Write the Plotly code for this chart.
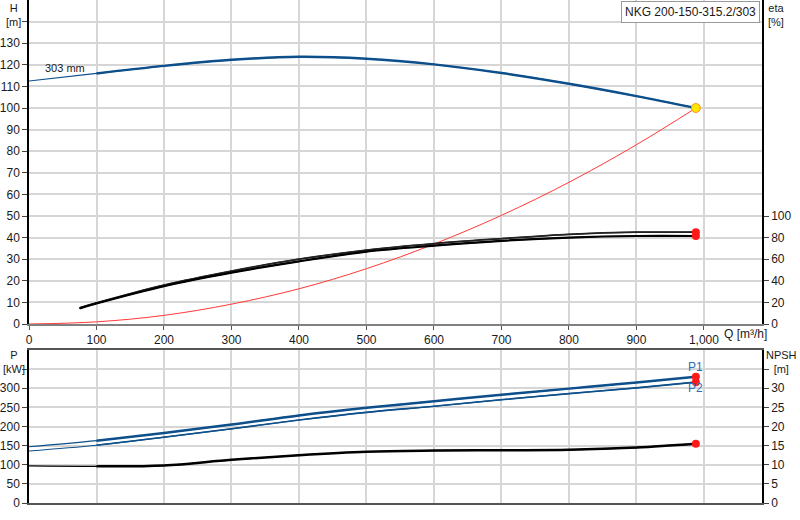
import plotly.graph_objects as go

# pump curve data
q = [0, 100, 200, 300, 400, 500, 600, 700, 800, 900, 988]
head = [112.5, 116, 119.5, 122.3, 123.7, 122.8, 120.2, 116.2, 111.2, 105.5, 100]
system = [0, 1, 4, 9.2, 16.3, 25.6, 37, 50.3, 65.6, 83, 100]
p1 = [147, 163, 183, 205, 229, 249, 266, 283, 299, 315, 330]
p2 = [136, 151, 172, 194, 217, 237, 253, 270, 286, 301, 316]
npsh = [9.7, 9.6, 9.8, 11.3, 12.5, 13.4, 13.7, 13.8, 13.9, 14.5, 15.5]

q_eta = [75, 100, 200, 300, 400, 500, 600, 700, 800, 900, 988]
eta_1 = [15, 19.5, 36, 49, 60, 68.5, 74.5, 79, 83, 85, 85]
eta_2 = [14.5, 19, 35, 47.5, 58, 67, 72.5, 77, 80, 81.5, 81.5]

q_ticks = [0, 100, 200, 300, 400, 500, 600, 700, 800, 900, 1000]
q_labels = ["0", "100", "200", "300", "400", "500", "600", "700", "800", "900", "1,000"]
h_ticks = list(range(0, 150, 10))
eta_ticks = [0, 20, 40, 60, 80, 100]
p_ticks = list(range(0, 400, 50))
npsh_ticks = list(range(0, 40, 5))

pump_name = "NKG 200-150-315.2/303"
impeller = "303 mm"

BLUE = "#0d4f8b"
RED = "#ff1a1a"
FONT = "Liberation Sans, Arial, sans-serif"

# plot area in pixels: x 29..762, y 0..503
def px(x):
    return (x - 29) / 733.0

def py(y):
    return (503 - y) / 503.0

fig = go.Figure()

def curve(x, y, color, width, xa="x", ya="y", thin_to=0):
    # thin start, thick rest (as on the datasheet)
    fig.add_trace(go.Scatter(x=x, y=y, mode="lines", xaxis=xa, yaxis=ya,
                             line=dict(color=color, width=1.2, shape="spline"),
                             hoverinfo="skip"))
    fig.add_trace(go.Scatter(x=x[thin_to:], y=y[thin_to:], mode="lines", xaxis=xa, yaxis=ya,
                             line=dict(color=color, width=width, shape="spline"),
                             hoverinfo="skip"))

# top panel
fig.add_trace(go.Scatter(x=q, y=system, mode="lines", line=dict(color="#ff3838", width=1, shape="spline"),
                         hoverinfo="skip"))
curve(q, head, BLUE, 2.5, thin_to=1)
curve(q_eta, eta_1, "#222222", 1.8, ya="y2")
curve(q_eta, eta_2, "#000000", 2.2, ya="y2")
fig.add_trace(go.Scatter(x=[q_eta[-1], q_eta[-1]], y=[eta_1[-1], eta_2[-1]], mode="markers", yaxis="y2",
                         marker=dict(color=RED, size=8), hoverinfo="skip"))
fig.add_trace(go.Scatter(x=[q[-1]], y=[head[-1]], mode="markers",
                         marker=dict(color="#ffe600", size=9, line=dict(color="#ff9020", width=1)),
                         hoverinfo="skip"))

# bottom panel
curve(q, p1, BLUE, 2.5, xa="x2", ya="y3", thin_to=1)
curve(q, p2, BLUE, 1.6, xa="x2", ya="y3", thin_to=1)
curve(q, npsh, "#000000", 2.5, xa="x2", ya="y4", thin_to=1)
fig.add_trace(go.Scatter(x=[q[-1], q[-1]], y=[p1[-1], p2[-1]], mode="markers", xaxis="x2", yaxis="y3",
                         marker=dict(color=RED, size=8), hoverinfo="skip"))
fig.add_trace(go.Scatter(x=[q[-1]], y=[npsh[-1]], mode="markers", xaxis="x2", yaxis="y4",
                         marker=dict(color=RED, size=8), hoverinfo="skip"))

grid = "#d6d6d6"
tickfont = dict(family=FONT, size=12, color="#1a1a1a")
xcommon = dict(range=[0, 1086], tickvals=q_ticks, showgrid=True, gridcolor=grid, gridwidth=1.5,
               zeroline=False, tickfont=tickfont)

fig.update_layout(
    width=800, height=520,
    margin=dict(l=29, r=38, t=0, b=17),
    plot_bgcolor="white", paper_bgcolor="white",
    showlegend=False,
    font=dict(family=FONT, size=12, color="#1a1a1a"),
    xaxis=dict(xcommon, anchor="y", ticktext=q_labels, showline=True, linecolor="#808080",
               linewidth=2, ticks="outside", ticklen=4, tickcolor="#555"),
    yaxis=dict(domain=[py(324), 1], range=[0, 150], tickvals=h_ticks,
               ticktext=[str(v) for v in h_ticks[:-1]] + [""],
               showgrid=True, gridcolor=grid, gridwidth=1.5, zeroline=False,
               showline=True, linecolor="black", linewidth=1.5, ticks="outside", ticklen=5,
               tickfont=tickfont),
    yaxis2=dict(overlaying="y", side="right", anchor="x", range=[0, 300], tickvals=eta_ticks,
                showgrid=False, zeroline=False, showline=True, linecolor="black", linewidth=1.5,
                ticks="outside", ticklen=5, tickfont=tickfont),
    xaxis2=dict(xcommon, anchor="y3", showticklabels=False, showline=True, mirror=True,
                linecolor="#555", linewidth=1.5, ticks=""),
    yaxis3=dict(domain=[0, py(350)], anchor="x2", range=[0, 400], tickvals=p_ticks,
                ticktext=[str(v) for v in p_ticks[:-1]] + [""],
                showgrid=True, gridcolor=grid, gridwidth=1.5, zeroline=False,
                showline=True, linecolor="black", linewidth=1.5, ticks="outside", ticklen=5,
                tickfont=tickfont),
    yaxis4=dict(overlaying="y3", side="right", anchor="x2", range=[0, 40], tickvals=npsh_ticks,
                ticktext=[str(v) for v in npsh_ticks[:-1]] + [""],
                showgrid=False, zeroline=False, showline=True, linecolor="black", linewidth=1.5,
                ticks="outside", ticklen=5, tickfont=tickfont),
)

def label(text, x, y, anchor="center", size=12):
    fig.add_annotation(text=text, xref="paper", yref="paper", x=px(x), y=py(y),
                       xanchor=anchor, yanchor="middle", showarrow=False,
                       font=dict(family=FONT, size=size, color="#1a1a1a"))

# axis titles (two lines each)
label("H<br>[m]", 14, 15, size=11)
label("eta<br>[%]", 776, 15, size=11)
label("Q [m³/h]", 722, 334, anchor="left")
label("P<br>[kW]", 14, 362, size=11)
label("NPSH<br>[m]", 781, 362, size=11)

fig.add_annotation(text=pump_name, xref="paper", yref="paper", x=px(760), y=py(1),
                   xanchor="right", yanchor="top", showarrow=False,
                   bordercolor="#999", borderwidth=1, borderpad=3, bgcolor="white",
                   font=dict(family=FONT, size=12, color="#1a1a1a"))
fig.add_annotation(text=impeller, x=54, y=118.6, xref="x", yref="y", showarrow=False,
                   font=dict(family=FONT, size=11, color="#1a1a1a"))
fig.add_annotation(text="P1", x=987, y=356, xref="x2", yref="y3", showarrow=False,
                   font=dict(family=FONT, size=12, color="#2f6db5"))
fig.add_annotation(text="P2", x=987, y=301, xref="x2", yref="y3", showarrow=False,
                   font=dict(family=FONT, size=12, color="#2f6db5"))

# page body has a default margin; drop it so the chart fills the window
fig.write_html("out.html", config={"displayModeBar": False},
               post_script="document.body.style.margin='0';")
